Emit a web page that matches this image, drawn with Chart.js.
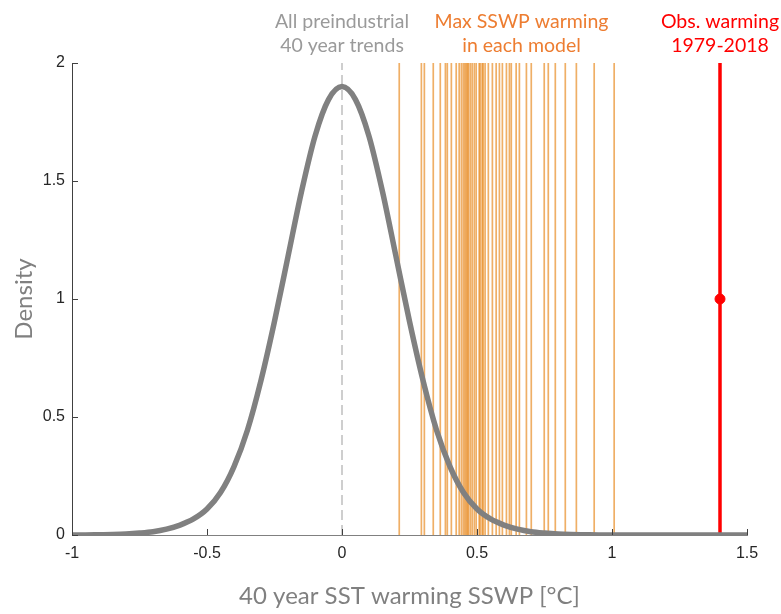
<!DOCTYPE html>
<html>
<head>
<meta charset="utf-8">
<script src="https://cdn.jsdelivr.net/npm/chart.js@4/dist/chart.umd.min.js"></script>
<style>
  html, body { margin: 0; padding: 0; background: #fff; }
  #wrap { width: 781px; height: 614px; }
</style>
</head>
<body>
<div id="wrap"><canvas id="chart"></canvas></div>
<script>
// density curve of preindustrial 40-year trends
var CURVE_X = [-1, -0.95, -0.9, -0.85, -0.8, -0.75, -0.7, -0.65, -0.6, -0.55, -0.5, -0.45, -0.4, -0.35, -0.3, -0.25, -0.2, -0.15, -0.1, -0.05,
  0, 0.05, 0.1, 0.15, 0.2, 0.25, 0.3, 0.35, 0.4, 0.45, 0.5, 0.55, 0.6, 0.65, 0.7, 0.75, 0.8, 0.85, 0.9, 0.95,
  1, 1.05, 1.1, 1.15, 1.2, 1.25, 1.3, 1.35, 1.4, 1.45, 1.5];
var CURVE_Y = [0, 0, 0.001, 0.002, 0.004, 0.008, 0.014, 0.025, 0.042, 0.068, 0.11, 0.18, 0.29, 0.445, 0.655, 0.905, 1.18, 1.455, 1.69, 1.845,
  1.9, 1.845, 1.69, 1.455, 1.18, 0.905, 0.655, 0.445, 0.29, 0.18, 0.11, 0.068, 0.042, 0.025, 0.014, 0.008, 0.004, 0.002, 0.001, 0,
  0, 0, 0, 0, 0, 0, 0, 0, 0, 0, 0];

// max SSWP warming in each model
var MODEL_MAX = [0.212, 0.294, 0.305, 0.338, 0.364, 0.383, 0.39, 0.405, 0.423, 0.434, 0.442, 0.449, 0.455, 0.46, 0.465, 0.468,
  0.475, 0.482, 0.49, 0.497, 0.508, 0.512, 0.519, 0.523, 0.53, 0.542, 0.557, 0.571, 0.583, 0.594, 0.609, 0.62, 0.627,
  0.645, 0.657, 0.683, 0.701, 0.749, 0.764, 0.79, 0.827, 0.868, 0.934, 1.008];

var OBS_WARMING = 1.4;
var OBS_DOT_Y = 1;
var X_TICKS = [-1, -0.5, 0, 0.5, 1, 1.5];
var Y_TICKS = [0, 0.5, 1, 1.5, 2];

var LABELS = [
  { x: 0, lines: ['All preindustrial', '40 year trends'], color: '#9a9a9a' },
  { x: 0.665, lines: ['Max SSWP warming', 'in each model'], color: '#ed7d31' },
  { x: 1.4, lines: ['Obs. warming', '1979-2018'], color: '#ff0000' },
];

var curveData = CURVE_X.map(function(x, i) { return { x: x, y: CURVE_Y[i] }; });

// one dataset per model so overlapping lines darken like the original
var modelSets = MODEL_MAX.map(function(v) {
  return {
    label: 'model',
    data: [{ x: v, y: 0 }, { x: v, y: 2 }],
    borderColor: 'rgba(228, 122, 0, 0.6)',
    borderWidth: 1.7,
    pointRadius: 0,
    order: 2,
  };
});

var annotations = {
  id: 'annotations',
  afterDraw: function(chart) {
    var c = chart.ctx;
    var xs = chart.scales.x, ys = chart.scales.y;
    c.save();
    // inward tick marks
    c.strokeStyle = '#404040';
    c.lineWidth = 1;
    X_TICKS.forEach(function(t) {
      var px = Math.round(xs.getPixelForValue(t)) + 0.5;
      c.beginPath(); c.moveTo(px, ys.bottom); c.lineTo(px, ys.bottom - 6); c.stroke();
    });
    Y_TICKS.forEach(function(t) {
      var py = Math.round(ys.getPixelForValue(t)) + 0.5;
      c.beginPath(); c.moveTo(xs.left, py); c.lineTo(xs.left + 6, py); c.stroke();
    });
    // header labels
    c.font = '19.5px Lato, "Open Sans", sans-serif';
    c.textAlign = 'center';
    c.textBaseline = 'middle';
    LABELS.forEach(function(l) {
      c.fillStyle = l.color;
      var px = xs.getPixelForValue(l.x);
      c.fillText(l.lines[0], px, 22);
      c.fillText(l.lines[1], px, 46);
    });
    c.restore();
  }
};

new Chart(document.getElementById('chart'), {
  type: 'line',
  data: {
    datasets: [
      {
        label: 'preindustrial',
        data: curveData,
        borderColor: '#808080',
        borderWidth: 5.5,
        pointRadius: 0,
        cubicInterpolationMode: 'monotone',
        order: 0,
      },
      {
        label: 'zero',
        data: [{ x: 0, y: 0 }, { x: 0, y: 2 }],
        borderColor: '#b4b4b4',
        borderWidth: 1.3,
        borderDash: [10, 5],
        pointRadius: 0,
        order: 3,
      },
      {
        label: 'obs',
        data: [{ x: OBS_WARMING, y: 0 }, { x: OBS_WARMING, y: 2 }],
        borderColor: '#ff0000',
        borderWidth: 3.5,
        pointRadius: 0,
        order: 1,
      },
      {
        label: 'obs dot',
        data: [{ x: OBS_WARMING, y: OBS_DOT_Y }],
        showLine: false,
        pointRadius: 5,
        pointBackgroundColor: '#ff0000',
        pointBorderColor: '#ff0000',
        order: 1,
      },
    ].concat(modelSets),
  },
  options: {
    responsive: true,
    maintainAspectRatio: false,
    animation: false,
    layout: { padding: { top: 63, right: 34, left: 0, bottom: 0 } },
    plugins: { legend: { display: false }, tooltip: { enabled: false } },
    scales: {
      x: {
        type: 'linear',
        min: -1, max: 1.5,
        afterBuildTicks: function(s) { s.ticks = X_TICKS.map(function(v) { return { value: v }; }); },
        afterFit: function(s) { s.height = 79; },
        grid: { display: false, drawTicks: false },
        border: { display: true, color: '#808080', width: 1 },
        ticks: {
          color: '#262626',
          font: { family: 'Liberation Sans, Arial, sans-serif', size: 16 },
          padding: 9,
          maxRotation: 0,
          callback: function(v) { return String(v); },
        },
        title: {
          display: true,
          text: '40 year SST warming SSWP [°C]',
          color: '#808080',
          font: { family: 'Lato, "Open Sans", sans-serif', size: 24 },
          padding: { top: 0, bottom: 3 },
        },
      },
      y: {
        min: 0, max: 2,
        afterBuildTicks: function(s) { s.ticks = Y_TICKS.map(function(v) { return { value: v }; }); },
        afterFit: function(s) { s.width = 72; },
        grid: { display: false, drawTicks: false },
        border: { display: true, color: '#404040', width: 1 },
        ticks: {
          color: '#262626',
          font: { family: 'Liberation Sans, Arial, sans-serif', size: 16 },
          padding: 7,
          callback: function(v) { return String(v); },
        },
        title: {
          display: true,
          text: 'Density',
          color: '#808080',
          font: { family: 'Lato, "Open Sans", sans-serif', size: 24 },
          padding: { top: 10, bottom: 0 },
        },
      },
    },
  },
  plugins: [annotations],
});
</script>
</body>
</html>
